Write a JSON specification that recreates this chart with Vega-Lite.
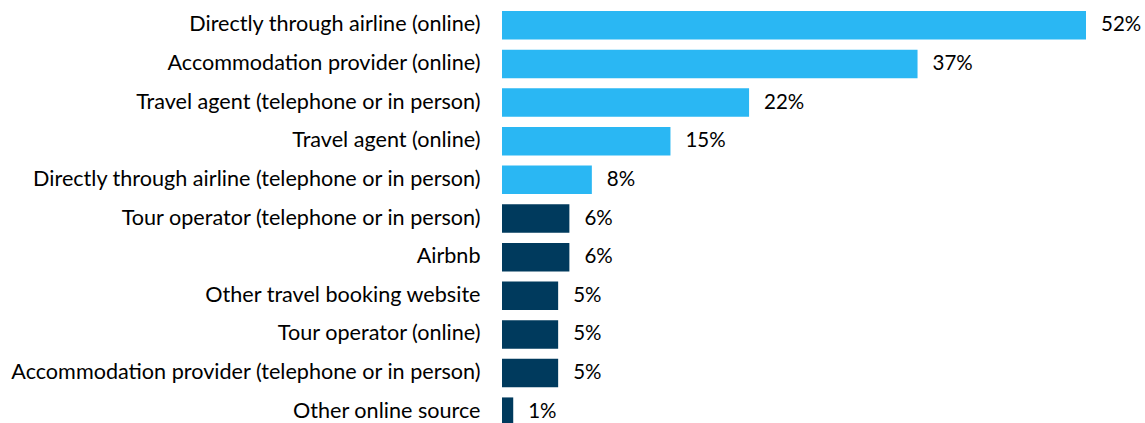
{
  "$schema": "https://vega.github.io/schema/vega-lite/v6.json",
  "autosize": "none",
  "width": 584,
  "height": 425,
  "padding": {"left": 502, "top": 6, "right": 59, "bottom": 0},
  "background": "white",
  "config": {"view": {"stroke": null}, "font": "Lato"},
  "data": {"values": [
    {"channel": "Directly through airline (online)", "share": 0.52, "group": "top"},
    {"channel": "Accommodation provider (online)", "share": 0.37, "group": "top"},
    {"channel": "Travel agent (telephone or in person)", "share": 0.22, "group": "top"},
    {"channel": "Travel agent (online)", "share": 0.15, "group": "top"},
    {"channel": "Directly through airline (telephone or in person)", "share": 0.08, "group": "top"},
    {"channel": "Tour operator (telephone or in person)", "share": 0.06, "group": "other"},
    {"channel": "Airbnb", "share": 0.06, "group": "other"},
    {"channel": "Other travel booking website", "share": 0.05, "group": "other"},
    {"channel": "Tour operator (online)", "share": 0.05, "group": "other"},
    {"channel": "Accommodation provider (telephone or in person)", "share": 0.05, "group": "other"},
    {"channel": "Other online source", "share": 0.01, "group": "other"}
  ]},
  "encoding": {
    "y": {"field": "channel", "type": "nominal", "sort": null,
      "scale": {"paddingInner": 0.262, "paddingOuter": 0.131},
      "axis": {"title": null, "domain": false, "ticks": false, "labelPadding": 22,
        "labelFontSize": 21.6, "labelColor": "#000000", "labelFont": "Lato", "labelLimit": 600}},
    "x": {"field": "share", "type": "quantitative", "scale": {"domain": [0, 0.52], "nice": false}, "axis": null}
  },
  "layer": [
    {"mark": {"type": "bar"},
     "encoding": {"color": {"field": "group", "type": "nominal",
       "scale": {"domain": ["top", "other"], "range": ["#2AB7F3", "#003A5D"]}, "legend": null}}},
    {"mark": {"type": "text", "align": "left", "dx": 15, "fontSize": 20.5, "font": "Lato", "color": "#000000"},
     "encoding": {"text": {"field": "share", "type": "quantitative", "format": ".0%"}}}
  ]
}
